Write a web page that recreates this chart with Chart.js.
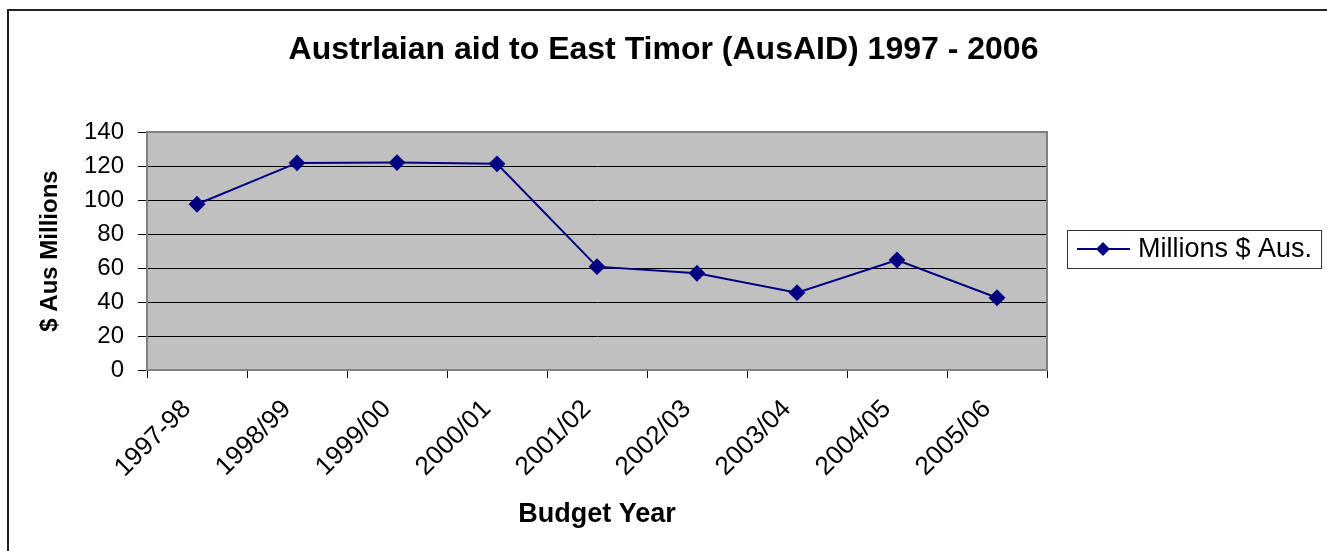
<!DOCTYPE html>
<html>
<head>
<meta charset="utf-8">
<title>Australian aid to East Timor</title>
<script src="https://cdn.jsdelivr.net/npm/chart.js@4/dist/chart.umd.min.js"></script>
<style>
  html, body { margin: 0; padding: 0; background: #fff; }
  #wrap { position: relative; width: 1327px; height: 551px; overflow: hidden; }
  #frame {
    position: absolute; left: 7px; top: 9px; width: 1400px; height: 600px;
    border-left: 2px solid #222; border-top: 2px solid #222;
  }
  #myChart { position: absolute; left: 0; top: 0; }
</style>
</head>
<body>
<div id="wrap">
  <div id="frame"></div>
  <canvas id="myChart" width="1327" height="551"></canvas>
</div>
<script>
const budgetYears = ["1997-98", "1998/99", "1999/00", "2000/01", "2001/02", "2002/03", "2003/04", "2004/05", "2005/06"];
const aidMillions = [97.5, 121.8, 122, 121.3, 60.8, 56.9, 45.5, 64.7, 42.5];
const seriesName = "Millions $ Aus.";
const yTicks = [0, 20, 40, 60, 80, 100, 120, 140];

const lineColor = "#000080";
const fontFamily = "Arial, 'Liberation Sans', sans-serif";

// grey plot background and border, like the old Excel chart
const plotBackground = {
  id: "plotBackground",
  beforeDraw: (chart) => {
    const { ctx, chartArea } = chart;
    ctx.save();
    ctx.fillStyle = "#c0c0c0";
    ctx.fillRect(chartArea.left, chartArea.top, chartArea.width, chartArea.height);
    ctx.restore();
  },
  beforeDatasetsDraw: (chart) => {
    const { ctx, chartArea } = chart;
    ctx.save();
    ctx.strokeStyle = "#808080";
    ctx.lineWidth = 2;
    ctx.strokeRect(chartArea.left, chartArea.top, chartArea.width, chartArea.height);
    ctx.restore();
  },
};

// boxed legend with line + diamond symbol
const boxLegend = {
  id: "boxLegend",
  afterDraw: (chart) => {
    const { ctx, chartArea } = chart;
    const left = chartArea.right + 20;
    const midY = (chartArea.top + chartArea.bottom) / 2 - 2;
    ctx.save();
    ctx.font = "27px " + fontFamily;
    const textW = ctx.measureText(seriesName).width;
    const boxW = 71 + textW + 9;
    ctx.fillStyle = "#fff";
    ctx.fillRect(left, midY - 19, boxW, 38);
    ctx.strokeStyle = "#333";
    ctx.lineWidth = 1;
    ctx.strokeRect(left + 0.5, midY - 19 + 0.5, boxW, 38);

    ctx.strokeStyle = lineColor;
    ctx.lineWidth = 2;
    ctx.beginPath();
    ctx.moveTo(left + 10, midY);
    ctx.lineTo(left + 63, midY);
    ctx.stroke();

    const cx = left + 36;
    ctx.fillStyle = lineColor;
    ctx.beginPath();
    ctx.moveTo(cx, midY - 7);
    ctx.lineTo(cx + 7, midY);
    ctx.lineTo(cx, midY + 7);
    ctx.lineTo(cx - 7, midY);
    ctx.closePath();
    ctx.fill();

    ctx.fillStyle = "#000";
    ctx.textBaseline = "middle";
    ctx.fillText(seriesName, left + 71, midY + 1);
    ctx.restore();
  },
};

const ctx = document.getElementById("myChart").getContext("2d");
const myChart = new Chart(ctx, {
  type: "line",
  data: {
    labels: budgetYears,
    datasets: [
      {
        label: seriesName,
        data: aidMillions,
        borderColor: lineColor,
        backgroundColor: lineColor,
        borderWidth: 2,
        pointStyle: "rectRot",
        pointRadius: 7,
        pointHoverRadius: 7,
        tension: 0,
      },
    ],
  },
  options: {
    responsive: false,
    animation: false,
    layout: { padding: 0 },
    plugins: {
      legend: { display: false },
      tooltip: { enabled: false },
      title: {
        display: true,
        text: "Austrlaian aid to East Timor (AusAID) 1997 - 2006",
        color: "#000",
        font: { family: fontFamily, size: 32, weight: "bold", lineHeight: 1.2 },
        padding: { top: 31, bottom: 62.6 },
      },
    },
    scales: {
      x: {
        offset: true,
        grid: {
          offset: true,
          drawOnChartArea: false,
          drawTicks: true,
          tickLength: 8,
          color: "#000",
        },
        border: { color: "#404040", width: 2 },
        ticks: {
          color: "#000",
          font: { family: fontFamily, size: 26 },
          minRotation: 45,
          maxRotation: 45,
          padding: 16,
          labelOffset: -10,
        },
        title: {
          display: true,
          text: "Budget Year",
          color: "#000",
          font: { family: fontFamily, size: 27, weight: "bold", lineHeight: 1.2 },
          padding: { top: 0, bottom: 20 },
        },
        afterFit: (scale) => { scale.height = 181; },
      },
      y: {
        min: 0,
        max: 140,
        afterBuildTicks: (scale) => { scale.ticks = yTicks.map((v) => ({ value: v })); },
        grid: {
          color: "#000",
          lineWidth: 1,
          drawTicks: true,
          tickLength: 9,
        },
        border: { color: "#404040", width: 2 },
        ticks: {
          color: "#000",
          font: { family: fontFamily, size: 24 },
          padding: 14,
        },
        title: {
          display: true,
          text: "$ Aus Millions",
          color: "#000",
          font: { family: fontFamily, size: 24, weight: "bold", lineHeight: 1.2 },
          padding: { top: 36, bottom: 0 },
        },
        afterFit: (scale) => { scale.width = 147; },
      },
      // empty right-hand axis that only reserves room for the legend box
      legendSpace: {
        type: "linear",
        position: "right",
        grid: { display: false },
        ticks: { display: false },
        border: { display: false },
        afterFit: (scale) => { scale.width = 280; },
      },
    },
  },
  plugins: [plotBackground, boxLegend],
});
</script>
</body>
</html>
